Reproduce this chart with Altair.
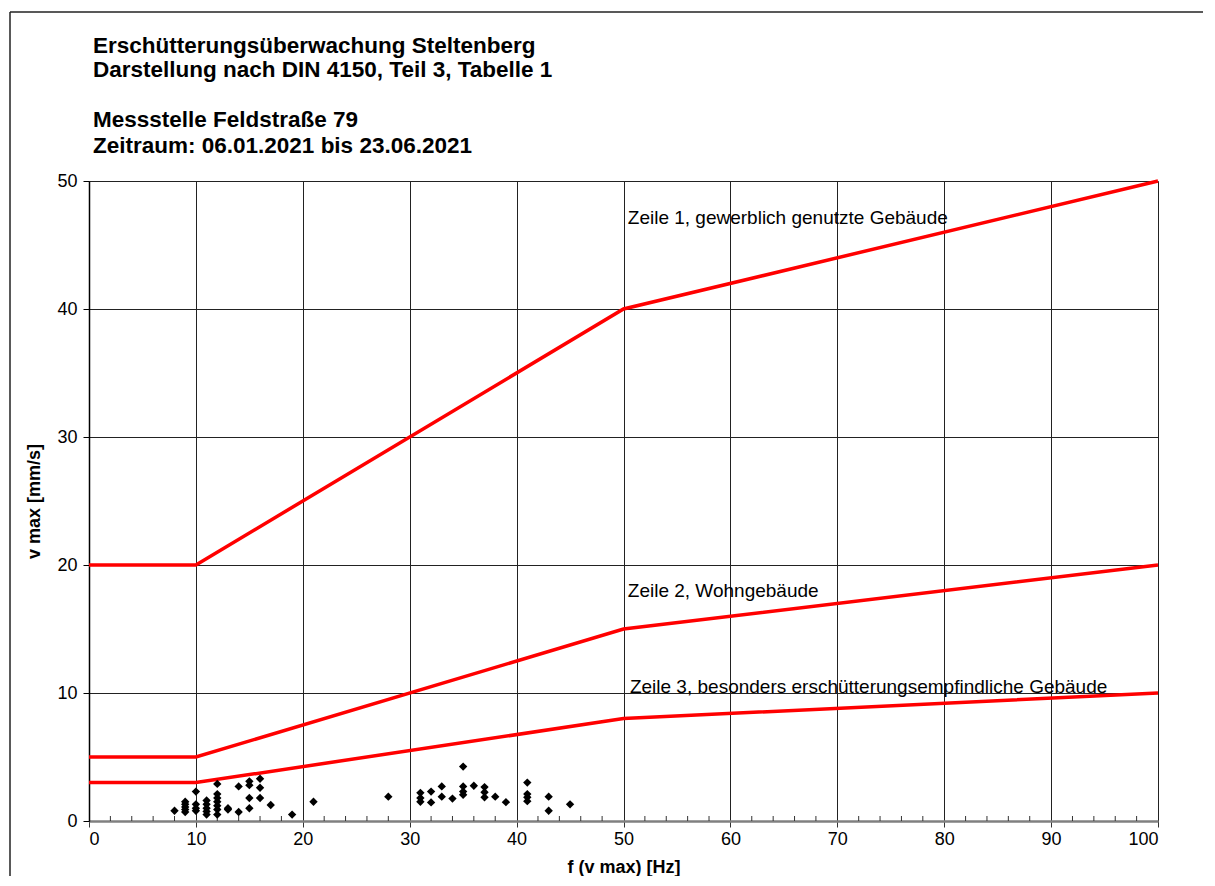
import altair as alt
import pandas as pd

# DIN 4150-3 reference curves
freq_pts = [0, 10, 50, 100]
zeile1 = [20, 20, 40, 50]
zeile2 = [5, 5, 15, 20]
zeile3 = [3, 3, 8, 10]

# measured peaks (frequency Hz, v max mm/s)
meas_f = [8,
          9, 9, 9, 9, 9,
          10, 10, 10, 10,
          11, 11, 11, 11, 11,
          12, 12, 12, 12, 12, 12, 12,
          13, 13,
          14, 14,
          15, 15, 15, 15,
          16, 16, 16,
          17, 19, 21, 28,
          31, 31, 31,
          32, 32,
          33, 33,
          34,
          35, 35, 35, 35,
          36,
          37, 37, 37,
          38, 39,
          41, 41, 41, 41,
          43, 43,
          45]
meas_v = [0.8,
          0.7, 0.9, 1.1, 1.3, 1.5,
          2.3, 1.3, 1.0, 0.8,
          1.6, 1.3, 1.0, 0.75, 0.5,
          2.9, 2.1, 1.8, 1.5, 1.2, 0.9, 0.5,
          1.0, 0.9,
          2.7, 0.7,
          3.1, 2.8, 1.8, 1.0,
          3.3, 2.6, 1.8,
          1.25, 0.5, 1.5, 1.9,
          2.2, 1.8, 1.5,
          2.3, 1.45,
          2.7, 1.9,
          1.75,
          4.25, 2.7, 2.3, 2.05,
          2.75,
          2.65, 2.25, 1.85,
          1.9, 1.47,
          3.0, 2.1, 1.85, 1.55,
          1.9, 0.8,
          1.3]

label_text = ["Zeile 1, gewerblich genutzte  Gebäude",
              "Zeile 2, Wohngebäude",
              "Zeile 3, besonders erschütterungsempfindliche  Gebäude"]
label_f = [50.4, 50.4, 50.6]
label_v = [47.1, 18.0, 10.5]

minor_ticks = [t for t in range(2, 100, 2) if t % 10 != 0]

title_lines = ["Erschütterungsüberwachung Steltenberg",
               "Darstellung nach DIN 4150, Teil 3, Tabelle 1"]
subtitle_lines = ["Messstelle Feldstraße 79",
                  "Zeitraum: 06.01.2021 bis 23.06.2021"]

W, H = 1069, 640
FONT = "Liberation Sans"

curves = pd.DataFrame({
    "f": freq_pts * 3,
    "v": zeile1 + zeile2 + zeile3,
    "zeile": ["Zeile 1"] * 4 + ["Zeile 2"] * 4 + ["Zeile 3"] * 4,
})
meas = pd.DataFrame({"f": meas_f, "v": meas_v})
labels = pd.DataFrame({"f": label_f, "v": label_v, "t": label_text})
minor = pd.DataFrame({"f": minor_ticks})
one = pd.DataFrame({"a": [0]})

xscale = alt.Scale(domain=[0, 100], nice=False, zero=True)
yscale = alt.Scale(domain=[0, 50], nice=False, zero=True)

xaxis = alt.Axis(values=list(range(0, 101, 10)), title="f (v max) [Hz]",
                 grid=True, gridColor="#222", gridWidth=1,
                 domainColor="#808080", domainWidth=2.5,
                 tickColor="#333", tickSize=6, tickWidth=1,
                 labelFont=FONT, labelFontSize=18, labelColor="black",
                 labelPadding=3,
                 titleFont=FONT, titleFontSize=18, titleFontWeight="bold",
                 titleColor="black", titlePadding=10)
yaxis = alt.Axis(values=list(range(0, 51, 10)), title="v max [mm/s]",
                 grid=True, gridColor="#222", gridWidth=1,
                 domainColor="black", domainWidth=1.5,
                 tickColor="black", tickSize=6, tickWidth=1,
                 labelFont=FONT, labelFontSize=18, labelColor="black",
                 labelPadding=6,
                 titleFont=FONT, titleFontSize=18, titleFontWeight="bold",
                 titleColor="black", titlePadding=13)

lines = alt.Chart(curves).mark_line(color="#ff0000", strokeWidth=3.5).encode(
    x=alt.X("f:Q", scale=xscale, axis=xaxis),
    y=alt.Y("v:Q", scale=yscale, axis=yaxis),
    detail="zeile:N",
)

points = alt.Chart(meas).mark_point(shape="diamond", filled=True, color="black",
                                    size=70, opacity=1).encode(
    x="f:Q", y="v:Q")

texts = alt.Chart(labels).mark_text(align="left", baseline="middle", font=FONT,
                                    fontSize=19, color="black").encode(
    x="f:Q", y="v:Q", text="t:N")

minor_rules = alt.Chart(minor).mark_rule(color="#333", strokeWidth=1).encode(
    x="f:Q", y=alt.value(H - 5), y2=alt.value(H))

frame_left = alt.Chart(one).mark_rule(color="#222", strokeWidth=1.5).encode(
    x=alt.value(-79), y=alt.value(-169), y2=alt.value(H + 80))
frame_top = alt.Chart(one).mark_rule(color="#222", strokeWidth=1.5).encode(
    x=alt.value(-79), x2=alt.value(W + 80), y=alt.value(-169))

chart = alt.layer(lines, minor_rules, points, texts, frame_left, frame_top).properties(
    width=W, height=H,
    autosize=alt.AutoSizeParams(type="none"),
    padding={"left": 81, "top": 173, "right": 45, "bottom": 55},
    title=alt.TitleParams(text=title_lines, subtitle=subtitle_lines,
                          anchor="start", frame="group",
                          font=FONT, fontSize=22.5, fontWeight="bold",
                          color="black", lineHeight=24.5,
                          subtitleFont=FONT, subtitleFontSize=22.5,
                          subtitleFontWeight="bold", subtitleColor="black",
                          subtitleLineHeight=26, subtitlePadding=27,
                          dx=4, offset=-146),
).configure_view(stroke=None).configure(background="white")

chart.save("out.html", embed_options={"renderer": "svg", "actions": False})
